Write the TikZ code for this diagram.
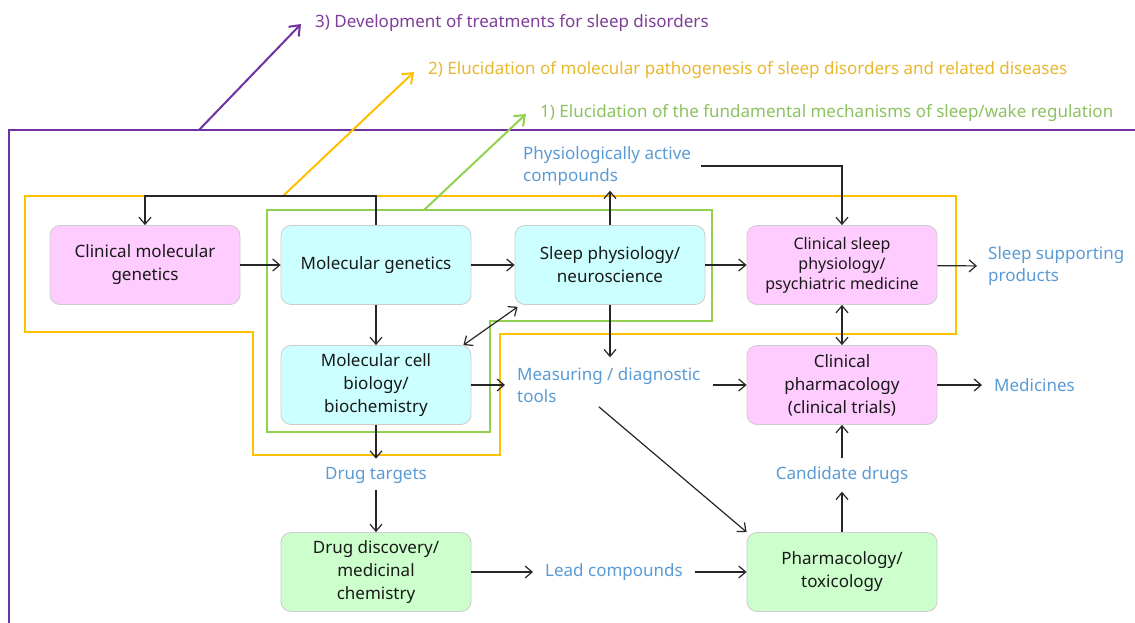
\documentclass[tikz,border=0pt]{standalone}
\usepackage{fontspec}
\setmainfont{Noto Sans}
\usetikzlibrary{arrows.meta}
\definecolor{pinkf}{HTML}{FFCCFF}
\definecolor{cyanf}{HTML}{CCFFFF}
\definecolor{greenf}{HTML}{CCFFCC}
\definecolor{bluet}{HTML}{5B9BD5}
\definecolor{purp}{HTML}{7030A0}
\definecolor{purpt}{HTML}{7F3F98}
\definecolor{yel}{HTML}{FFC000}
\definecolor{yelt}{HTML}{E8B830}
\definecolor{grn}{HTML}{92D050}
\definecolor{grnt}{HTML}{8CC260}
\tikzset{
  box/.style={rectangle, rounded corners=10pt, minimum width=190pt, minimum height=79pt,
    draw=black!20, line width=0.8pt, align=center, text=black!90,
    font=\fontsize{17}{23}\selectfont},
  lbl/.style={text=bluet, align=left, inner sep=0pt, font=\fontsize{17}{22}\selectfont},
  toplbl/.style={anchor=west, inner sep=0pt, font=\fontsize{17}{20}\selectfont},
  arr/.style={-{Straight Barb[length=7pt,width=12pt]}, line width=1.2pt, draw=black!85},
  darr/.style={{Straight Barb[length=7pt,width=12pt]}-{Straight Barb[length=7pt,width=12pt]}, line width=1.2pt, draw=black!85},
  carr/.style={-{Straight Barb[length=9pt,width=14pt]}, line width=2pt},
}
\begin{document}
\begin{tikzpicture}[x=1pt,y=-1pt]
\useasboundingbox (0,0) rectangle (1135,623);
\fill[white] (0,0) rectangle (1135,623);

% outlines
\draw[purp, line width=2pt] (9,640) -- (9,130) -- (1140,130);
\draw[yel, line width=2pt] (25,196) -- (956,196) -- (956,334) -- (500,334) -- (500,455) -- (253,455) -- (253,332) -- (25,332) -- cycle;
\draw[grn, line width=2pt] (267,210) -- (712,210) -- (712,321) -- (490,321) -- (490,432) -- (267,432) -- cycle;

% top labels
\node[toplbl, text=purpt] (t3) at (315,23) {3) Development of treatments for sleep disorders};
\node[toplbl, text=yelt] (t2) at (428,70) {2) Elucidation of molecular pathogenesis of sleep disorders and related diseases};
\node[toplbl, text=grnt] (t1) at (540,113) {1) Elucidation of the fundamental mechanisms of sleep/wake regulation};
\coordinate (p3) at (199,130);
\coordinate (p2) at (283,196);
\coordinate (p1) at (424,210);
\draw[carr, purp] (p3) -- ([xshift=-14pt,yshift=-1pt]t3.west);
\draw[carr, yel] (p2) -- ([xshift=-14pt,yshift=-2pt]t2.west);
\draw[carr, grn] (p1) -- ([xshift=-14pt,yshift=-1pt]t1.west);

% boxes
\node[box, fill=pinkf] (cmg) at (145,265) {Clinical molecular\\genetics};
\node[box, fill=cyanf] (mg) at (376,265) {Molecular genetics};
\node[box, fill=cyanf] (sp) at (610,265) {Sleep physiology/\\neuroscience};
\node[box, fill=pinkf, font=\fontsize{16}{20}\selectfont] (csp) at (842,265) {Clinical sleep\\physiology/\\psychiatric medicine};
\node[box, fill=cyanf] (mcb) at (376,385) {Molecular cell\\biology/\\biochemistry};
\node[box, fill=pinkf] (cp) at (842,385) {Clinical\\pharmacology\\(clinical trials)};
\node[box, fill=greenf] (dd) at (376,572) {Drug discovery/\\medicinal\\chemistry};
\node[box, fill=greenf] (pt) at (842,572) {Pharmacology/\\toxicology};

% blue labels
\node[lbl, anchor=west] (phys) at (523,166) {Physiologically active\\compounds};
\node[lbl, anchor=west] (meas) at (517,385) {Measuring / diagnostic\\tools};
\node[lbl, anchor=west] (ssp) at (988,266) {Sleep supporting\\products};
\node[lbl, anchor=west] (med) at (994,385) {Medicines};
\node[lbl] (dt) at (376,475) {Drug targets};
\node[lbl] (cand) at (842,475) {Candidate drugs};
\node[lbl, anchor=west] (lead) at (545,572) {Lead compounds};

% connectors
\draw[arr] (mg.north) -- (mg.north |- p2) -| (cmg.north);
\draw[arr] (cmg) -- (mg);
\draw[arr] (mg) -- (sp);
\draw[arr] (sp) -- (csp);
\draw[arr, shorten >=11pt] (csp) -- (ssp.west);
\draw[arr] (mg) -- (mcb);
\draw[darr] ([xshift=-8pt]mcb.north east) -- ([xshift=3pt,yshift=-2pt]sp.south west);
\draw[arr, shorten >=12pt] (mcb) -- (meas.west);
\draw[arr] (sp.north) -- ([yshift=-5pt]sp.north |- phys.south);
\draw[arr, shorten <=10pt] (phys.east) -| (csp.north);
\draw[arr] (sp.south) -- ([yshift=10pt]sp.south |- meas.north);
\draw[darr] (csp) -- (cp);
\draw[arr, shorten <=12pt] (meas.east |- cp.west) -- (cp.west);
\draw[arr, shorten >=12pt] (cp) -- (med.west);
\draw[arr] ([xshift=-10pt,yshift=-4pt]meas.south) -- (pt.north west);
\draw[arr, shorten >=8pt] (mcb) -- (dt.north);
\draw[arr, shorten <=7pt] (dt.south) -- (dd.north);
\draw[arr, shorten >=12pt] (dd) -- (lead.west);
\draw[arr, shorten <=12pt] (lead.east) -- (pt.west);
\draw[arr, shorten >=8pt] (pt) -- (cand.south);
\draw[arr, shorten <=8pt] (cand.north) -- (cp.south);
\end{tikzpicture}
\end{document}
